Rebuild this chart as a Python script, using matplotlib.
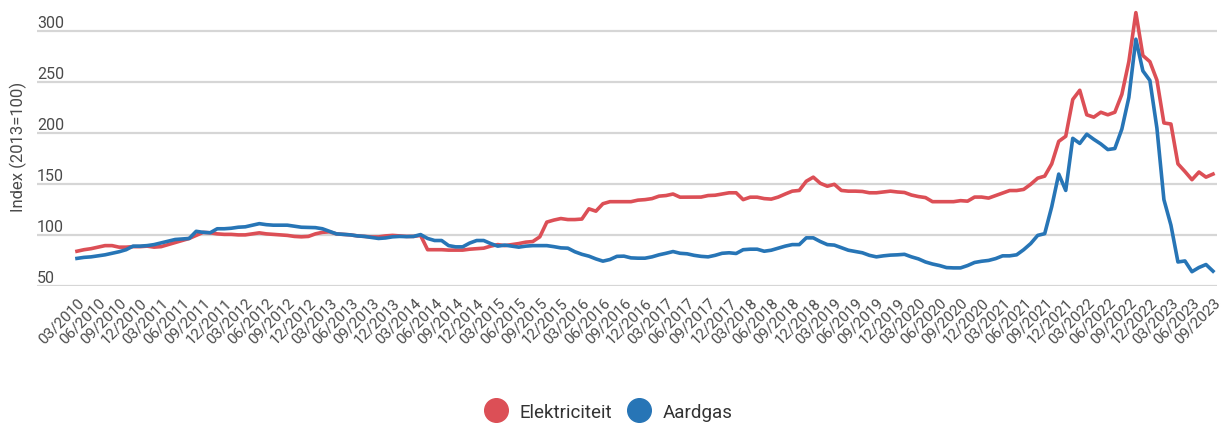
import matplotlib
matplotlib.use("Agg")
import matplotlib.pyplot as plt
import matplotlib.transforms as mtransforms
from matplotlib.lines import Line2D
import pandas as pd

plt.rcParams['font.family'] = ['Roboto', 'DejaVu Sans']

# ------------------------------------------------------
# data: monthly index (2013=100), 03/2010 .. 09/2023
months = pd.date_range("2010-03-01", "2023-09-01", freq="MS").strftime("%m/%Y").tolist()

elektriciteit = [
    84.5, 86, 87, 88.5, 90, 90, 88.5, 88.5, 89, 89, 89.5, 88.5,
    89, 91, 93, 95, 97, 100, 103, 102.5, 101.5, 101, 101, 100.5,
    100.5, 101.5, 102.5, 101.5, 101, 100.5, 100, 99, 98.6, 99, 101.5, 103,
    103.5, 101.5, 101, 100.5, 99.5, 99, 98.5, 98.5, 99.5, 100, 99.5, 99,
    99, 100, 86, 86, 86, 85.6, 85.6, 85.6, 86.5, 87, 87.5, 89.5,
    91, 90, 91, 92, 93.4, 94, 98.6, 113, 115, 116.5, 115.5, 115.5,
    116, 126, 123.7, 131, 133, 133, 133, 133, 134.5, 135, 136, 138.4,
    139, 140.5, 137.4, 137.4, 137.4, 137.5, 139, 139.3, 140.5, 141.7, 141.7, 135,
    137.4, 137.4, 136, 135.5, 137.5, 140.5, 143.3, 144, 153, 157, 151, 148.1,
    150, 144, 143.3, 143.3, 143, 141.7, 141.7, 142.5, 143.3, 142.5, 142, 139.5,
    138, 137, 133, 133, 133, 133, 134, 133.5, 137.5, 137.5, 136.5, 139,
    141.4, 143.9, 143.9, 145, 150, 156, 158, 170, 192, 197, 233, 242,
    218, 215.7, 220.5, 218, 220.5, 238, 270, 318, 276, 270, 252, 210,
    209, 170, 162.5, 154.5, 162, 157, 160,
]

aardgas = [
    77.5, 78.5, 79, 80, 81, 82.5, 84, 86, 89.5, 89.5, 90, 91,
    92.7, 94.5, 96, 96.5, 97, 104, 103, 102.6, 106.5, 106.5, 107, 108,
    108.4, 110, 111.5, 110.5, 110, 110, 110, 109, 108, 107.8, 107.6, 106.5,
    104, 101.5, 101, 100.5, 99.5, 99, 98, 97, 97.5, 98.6, 99, 98.8,
    99, 100.8, 97, 95, 95, 90, 88.8, 88.8, 92.5, 95, 95, 92,
    89.5, 90.5, 89.5, 88.5, 89.5, 90, 90, 90, 89, 87.8, 87.5, 84,
    81.5, 79.7, 77, 74.8, 76.4, 79.5, 79.7, 78, 77.7, 77.7, 79, 81,
    82.5, 84.2, 82.5, 82, 80.5, 79.5, 79, 80.5, 82.5, 83, 82.3, 86,
    86.5, 86.5, 84.5, 85.5, 87.5, 89.5, 91, 91, 97.6, 97.6, 94, 91,
    90.5, 88, 85.5, 84.3, 83, 80.5, 79, 80, 80.7, 81, 81.5, 79,
    77, 74, 72, 70.5, 68.5, 68.2, 68.2, 70.5, 73.5, 74.7, 75.5, 77.3,
    80, 80, 81, 86, 92, 100, 101.7, 128, 160, 144, 195, 190,
    199, 194, 189.5, 184, 185, 204, 235, 292, 261, 251.6, 205, 135,
    110, 74, 75, 64.5, 68.6, 71.5, 65,
]

y_ticks = [50, 100, 150, 200, 250, 300]
# ------------------------------------------------------

red = '#dc4f56'
blue = '#2775b6'
grey_text = '#4a4a4a'

fig = plt.figure(figsize=(12.23, 4.27), dpi=100)
ax = fig.add_axes([37 / 1223, 0.3267, 1180 / 1223, 0.651])

x = list(range(len(months)))
ax.plot(x, elektriciteit, color=red, lw=2.6, solid_joinstyle='round', zorder=3)
ax.plot(x, aardgas, color=blue, lw=2.6, solid_joinstyle='round', zorder=4)

ax.set_xlim(-5.7, len(months) - 1 + 0.57)
ax.set_ylim(50, 322)

# gridlines with labels sitting above them
ax.set_yticks(y_ticks)
ax.yaxis.grid(True, color='#d6d6d6', lw=1.6)
ax.tick_params(axis='y', length=0, labelleft=False)
lbl_trans = mtransforms.offset_copy(ax.get_yaxis_transform(), fig=fig, x=0, y=4, units='dots')
for v in y_ticks:
    ax.text(0, v, str(v), transform=lbl_trans, ha='left', va='baseline',
            fontsize=11.5, color=grey_text)

ax.set_xticks(x[::3])
ax.set_xticklabels(months[::3], rotation=45, ha='right', va='top',
                   rotation_mode='anchor', fontsize=11, color=grey_text)
ax.tick_params(axis='x', length=0, pad=6)

for s in ax.spines.values():
    s.set_visible(False)

fig.text(18 / 1223, 1 - 147 / 427, 'Index (2013=100)', rotation=90,
         ha='center', va='center', fontsize=12, color=grey_text)

handles = [
    Line2D([], [], marker='o', ls='none', markersize=17, color=red),
    Line2D([], [], marker='o', ls='none', markersize=17, color=blue),
]
fig.legend(handles, ['Elektriciteit', 'Aardgas'], loc='center',
           bbox_to_anchor=(0.498, 14 / 427), ncol=2, frameon=False,
           fontsize=13.5, handlelength=1.1, handletextpad=0.7,
           columnspacing=0.9, labelcolor='#333333')

fig.savefig('out.png', dpi=100)
